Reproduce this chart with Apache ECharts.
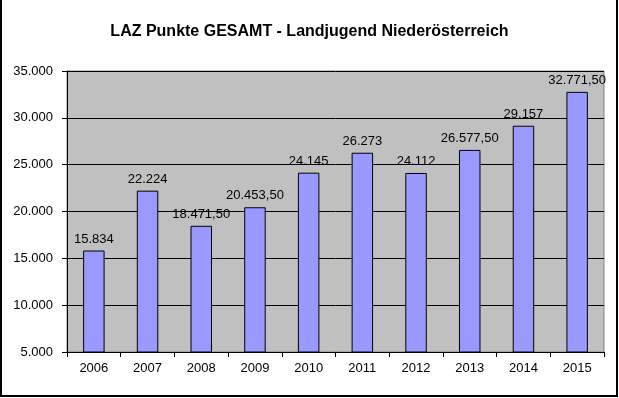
<!DOCTYPE html>
<html>
<head>
<meta charset="utf-8">
<script src="https://cdn.jsdelivr.net/npm/echarts@6/dist/echarts.min.js"></script>
<style>
  html, body { margin: 0; padding: 0; background: #fff; }
  #chart { width: 619px; height: 398px; position: absolute; left: 0; top: 0; }
  #frame { position: absolute; left: 0; top: 0; width: 614px; height: 395px;
           border-left: 2px solid #000; border-right: 2px solid #000; border-bottom: 2px solid #000; }
</style>
</head>
<body>
<div id="chart"></div>
<div id="frame"></div>
<script>
// Jahre (Kategorien)
const years = ['2006', '2007', '2008', '2009', '2010', '2011', '2012', '2013', '2014', '2015'];
// LAZ Punkte gesamt
const punkte = [15834, 22224, 18471.5, 20453.5, 24145, 26273, 24112, 26577.5, 29157, 32771.5];
// Y-Achse
const yMin = 5000, yMax = 35000, yStep = 5000;

// deutsche Zahlenformatierung: 12.345 bzw. 12.345,50
function fmt(v) {
  const hasDec = Math.round(v * 100) % 100 !== 0;
  const intPart = Math.floor(v).toString().replace(/\B(?=(\d{3})+(?!\d))/g, '.');
  if (!hasDec) return intPart;
  const dec = Math.round((v - Math.floor(v)) * 100).toString().padStart(2, '0');
  return intPart + ',' + dec;
}

const chart = echarts.init(document.getElementById('chart'));
const font = 'Liberation Sans, Arial, sans-serif';

chart.setOption({
  animation: false,
  backgroundColor: '#fff',
  title: {
    text: 'LAZ Punkte GESAMT - Landjugend Niederösterreich',
    left: 'center',
    top: 19,
    textStyle: { fontFamily: font, fontSize: 16, fontWeight: 'bold', color: '#000' }
  },
  grid: {
    left: 67, right: 15, top: 71, bottom: 46,
    show: true,
    backgroundColor: '#c0c0c0',
    borderColor: '#808080',
    borderWidth: 1
  },
  xAxis: {
    type: 'category',
    data: years,
    axisLine: { lineStyle: { color: '#000', width: 1 } },
    axisTick: { show: true, length: 5, lineStyle: { color: '#000' } },
    axisLabel: { color: '#000', fontFamily: font, fontSize: 13, margin: 10 }
  },
  yAxis: {
    type: 'value',
    min: yMin, max: yMax, interval: yStep,
    axisLine: { show: true, lineStyle: { color: '#000', width: 1 } },
    axisTick: { show: true, length: 5, lineStyle: { color: '#000' } },
    axisLabel: { color: '#000', fontFamily: font, fontSize: 13, margin: 14, formatter: fmt },
    splitLine: { show: true, lineStyle: { color: '#000', width: 1 } }
  },
  series: [{
    type: 'bar',
    data: punkte,
    barWidth: '40%',
    itemStyle: { color: '#9999ff', borderColor: '#000', borderWidth: 1 },
    label: {
      show: true,
      position: 'top',
      distance: 5,
      color: '#000',
      fontFamily: font,
      fontSize: 13,
      formatter: p => fmt(p.value)
    }
  }]
});
</script>
</body>
</html>
